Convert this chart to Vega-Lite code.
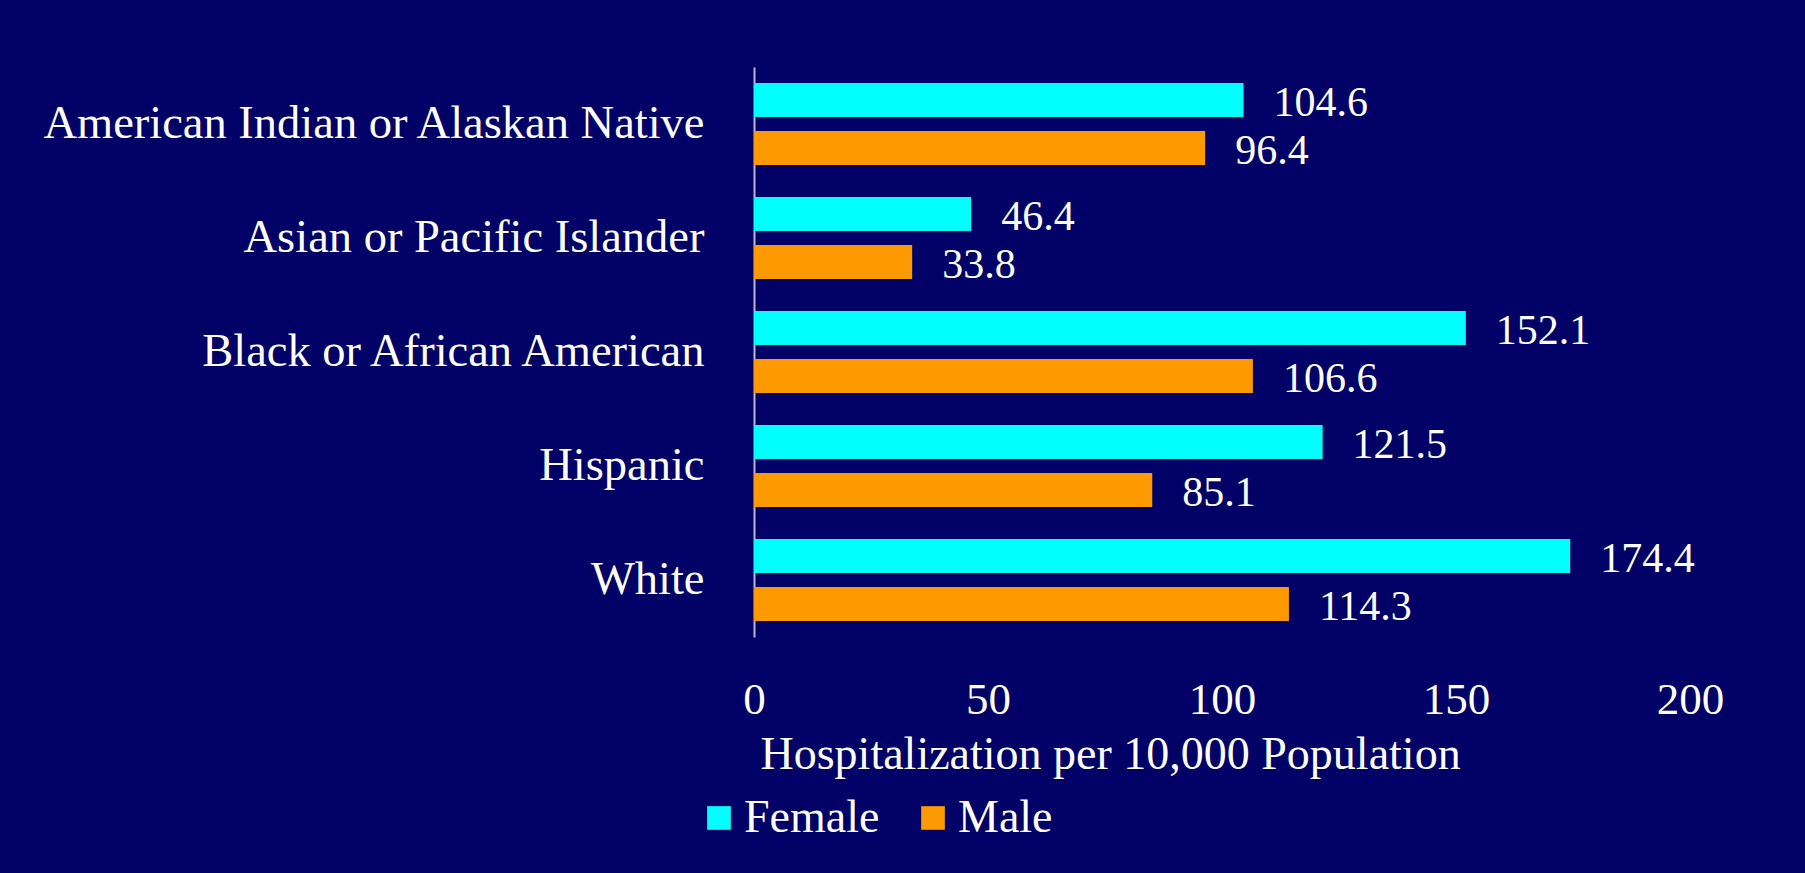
{
  "$schema": "https://vega.github.io/schema/vega-lite/v6.json",
  "width": 936,
  "height": 570,
  "autosize": {"type": "none"},
  "padding": {"left": 754, "top": 67, "right": 115, "bottom": 236},
  "background": "#000066",
  "data": {
    "values": [
      {"group": "American Indian or Alaskan Native", "sex": "Female", "rate": 104.6},
      {"group": "American Indian or Alaskan Native", "sex": "Male", "rate": 96.4},
      {"group": "Asian or Pacific Islander", "sex": "Female", "rate": 46.4},
      {"group": "Asian or Pacific Islander", "sex": "Male", "rate": 33.8},
      {"group": "Black or African American", "sex": "Female", "rate": 152.1},
      {"group": "Black or African American", "sex": "Male", "rate": 106.6},
      {"group": "Hispanic", "sex": "Female", "rate": 121.5},
      {"group": "Hispanic", "sex": "Male", "rate": 85.1},
      {"group": "White", "sex": "Female", "rate": 174.4},
      {"group": "White", "sex": "Male", "rate": 114.3}
    ]
  },
  "encoding": {
    "y": {
      "field": "group",
      "type": "nominal",
      "sort": ["American Indian or Alaskan Native", "Asian or Pacific Islander", "Black or African American", "Hispanic", "White"],
      "scale": {"paddingInner": 0.28, "paddingOuter": 0.14},
      "title": null,
      "axis": {
        "domain": true,
        "domainColor": "#b8b8cc",
        "domainWidth": 2,
        "ticks": false,
        "labelPadding": 50,
        "labelFontSize": 46.5,
        "labelColor": "#ffffff",
        "labelLimit": 0,
        "labelFont": "Liberation Serif"
      }
    },
    "yOffset": {
      "field": "sex",
      "type": "nominal",
      "sort": ["Female", "Male"],
      "scale": {"paddingInner": 0.29}
    },
    "x": {
      "field": "rate",
      "type": "quantitative",
      "scale": {"domain": [0, 200]},
      "title": "Hospitalization per 10,000 Population",
      "axis": {
        "values": [0, 50, 100, 150, 200],
        "domain": false,
        "ticks": false,
        "grid": false,
        "labelFlush": false,
        "labelPadding": 40,
        "labelFontSize": 45,
        "labelColor": "#ffffff",
        "labelFont": "Liberation Serif",
        "titleFont": "Liberation Serif",
        "titleFontSize": 46,
        "titleFontWeight": "normal",
        "titleColor": "#ffffff",
        "titlePadding": 10,
        "titleAnchor": "start",
        "titleAlign": "left",
        "titleX": 6
      }
    }
  },
  "layer": [
    {
      "mark": {"type": "bar"},
      "encoding": {
        "color": {
          "field": "sex",
          "type": "nominal",
          "scale": {"domain": ["Female", "Male"], "range": ["#00FFFF", "#FF9900"]},
          "legend": {
            "title": null,
            "orient": "none",
            "direction": "horizontal",
            "legendX": -58,
            "legendY": 728,
            "symbolType": "square",
            "symbolSize": 560,
            "symbolStrokeWidth": 0,
            "labelFontSize": 46,
            "labelColor": "#ffffff",
            "labelFont": "Liberation Serif",
            "labelOffset": 2,
            "columnPadding": 30
          }
        }
      }
    },
    {
      "mark": {
        "type": "text",
        "align": "left",
        "baseline": "middle",
        "dx": 30,
        "dy": 3,
        "fontSize": 42,
        "font": "Liberation Serif",
        "color": "#ffffff"
      },
      "encoding": {
        "text": {"field": "rate", "type": "quantitative", "format": ".1f"}
      }
    }
  ],
  "config": {
    "view": {"stroke": null},
    "font": "Liberation Serif"
  }
}
